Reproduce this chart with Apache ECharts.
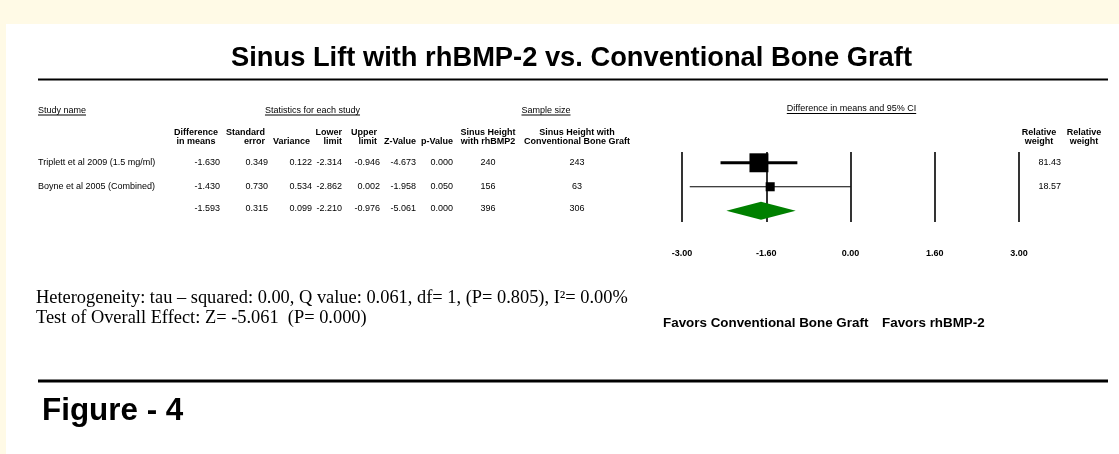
<!DOCTYPE html>
<html>
<head>
<meta charset="utf-8">
<title>Sinus Lift with rhBMP-2 vs. Conventional Bone Graft</title>
<script src="https://cdn.jsdelivr.net/npm/echarts@6/dist/echarts.min.js"></script>
<style>
  html, body { margin: 0; padding: 0; background: #FFFAE6; }
  #page { position: relative; width: 1119px; height: 454px; overflow: hidden; }
  #sheet { position: absolute; left: 6px; top: 24px; right: 0; bottom: 0; background: #ffffff; }
  #chart { position: absolute; left: 0; top: 0; width: 1119px; height: 454px; }
</style>
</head>
<body>
<div id="page">
  <div id="sheet"></div>
  <div id="chart"></div>
</div>
<script>
// ---- study data ----
const studies = ['Triplett et al 2009 (1.5 mg/ml)', 'Boyne et al 2005 (Combined)'];
const diffMeans = [-1.630, -1.430];
const stdErr = [0.349, 0.730];
const variances = [0.122, 0.534];
const lowerLimit = [-2.314, -2.862];
const upperLimit = [-0.946, 0.002];
const zValues = [-4.673, -1.958];
const pValues = [0.000, 0.050];
const nRhBMP2 = [240, 156];
const nConventional = [243, 63];
const relWeight = [81.43, 18.57];

// ---- pooled (fixed effect) summary ----
const pooledStats = [-1.593, 0.315, 0.099, -2.210, -0.976, -5.061, 0.000]; // diff, se, var, lower, upper, z, p
const pooledN = [396, 306];

// ---- axis ----
const axisMin = -3;
const axisMax = 3;
const axisStep = 1.5;
const tickLabels = ['-3.00', '-1.60', '0.00', '1.60', '3.00'];

// ---- texts ----
const titleText = 'Sinus Lift with rhBMP-2 vs. Conventional Bone Graft';
const heterogeneityText = 'Heterogeneity: tau \u2013 squared: 0.00, Q value: 0.061, df= 1, (P= 0.805), I\u00B2= 0.00%';
const overallText = 'Test of Overall Effect: Z= -5.061  (P= 0.000)';
const favorsLeft = 'Favors Conventional Bone Graft';
const favorsRight = 'Favors rhBMP-2';
const figureText = 'Figure - 4';

const SANS = '"Liberation Sans", Arial, Helvetica, sans-serif';
const SERIF = '"Liberation Serif", "Times New Roman", serif';

const measureCtx = document.createElement('canvas').getContext('2d');
function textWidth(str, font) { measureCtx.font = font; return measureCtx.measureText(str).width; }

function txt(x, y, text, font, align, extra) {
  return Object.assign({
    type: 'text', x: x, y: y, silent: true, z: 10,
    style: { text: text, font: font, fill: '#000',
      align: align || 'left', textAlign: align || 'left',
      verticalAlign: 'middle', textVerticalAlign: 'middle' }
  }, extra || {});
}
function rule(x1, y1, x2, y2, w) {
  return { type: 'line', silent: true, z: 10, shape: { x1: x1, y1: y1, x2: x2, y2: y2 },
    style: { stroke: '#000', lineWidth: w } };
}

const fSmall = '9px ' + SANS;
const fSmallB = 'bold 9px ' + SANS;
const g = [];

// title and rules
g.push(txt(571.5, 58, titleText, 'bold 27.3px ' + SANS, 'center'));
g.push(rule(38, 79.5, 1108, 79.5, 2));
g.push(rule(38, 381, 1108, 381, 3));
g.push(txt(42, 411, figureText, 'bold 31.4px ' + SANS, 'left'));

// underlined section headers
function section(cx, y, label, align) {
  const w = textWidth(label, fSmall);
  const left = align === 'left' ? cx : cx - w / 2;
  g.push(txt(cx, y, label, fSmall, align));
  g.push(rule(left, y + 4.5, left + w, y + 4.5, 1));
}
section(38, 110.5, 'Study name', 'left');
section(312.5, 110.5, 'Statistics for each study', 'center');
section(546, 110.5, 'Sample size', 'center');
section(851.5, 109, 'Difference in means and 95% CI', 'center');

// column headers
const headY = [132.3, 141.7];
const headers = [
  [196, 'center', 'Difference', 'in means'],
  [265, 'right', 'Standard', 'error'],
  [310, 'right', '', 'Variance'],
  [342, 'right', 'Lower', 'limit'],
  [377, 'right', 'Upper', 'limit'],
  [416, 'right', '', 'Z-Value'],
  [453, 'right', '', 'p-Value'],
  [488, 'center', 'Sinus Height', 'with rhBMP2'],
  [577, 'center', 'Sinus Height with', 'Conventional Bone Graft'],
  [1039, 'center', 'Relative', 'weight'],
  [1084, 'center', 'Relative', 'weight']
];
headers.forEach(function (h) {
  if (h[2]) g.push(txt(h[0], headY[0], h[2], fSmallB, h[1]));
  g.push(txt(h[0], headY[1], h[3], fSmallB, h[1]));
});

// table rows
const rowY = [163, 187, 209];
const cols = [[220, 'right'], [268, 'right'], [312, 'right'], [342, 'right'], [380, 'right'],
              [416, 'right'], [453, 'right'], [488, 'center'], [577, 'center']];
function tableRow(y, name, stats, ns, weight) {
  if (name) g.push(txt(38, y, name, fSmall, 'left'));
  stats.forEach(function (v, k) { g.push(txt(cols[k][0], y, v.toFixed(3), fSmall, cols[k][1])); });
  ns.forEach(function (v, k) { g.push(txt(cols[7 + k][0], y, String(v), fSmall, cols[7 + k][1])); });
  if (weight != null) g.push(txt(1061, y, weight.toFixed(2), fSmall, 'right'));
}
studies.forEach(function (s, i) {
  tableRow(rowY[i], s,
    [diffMeans[i], stdErr[i], variances[i], lowerLimit[i], upperLimit[i], zValues[i], pValues[i]],
    [nRhBMP2[i], nConventional[i]], relWeight[i]);
});
tableRow(rowY[2], '', pooledStats, pooledN, null);

// footnotes
g.push(txt(36, 298, heterogeneityText, '18.4px ' + SERIF, 'left'));
g.push(txt(36, 318, overallText, '18.4px ' + SERIF, 'left'));
g.push(txt(663, 323, favorsLeft, 'bold 13.4px ' + SANS, 'left'));
g.push(txt(882, 323, favorsRight, 'bold 13.4px ' + SANS, 'left'));

const chart = echarts.init(document.getElementById('chart'), null, { renderer: 'canvas' });

const studyData = studies.map(function (s, i) {
  return [i, diffMeans[i], lowerLimit[i], upperLimit[i], relWeight[i]];
});
const pooledData = [[studies.length, pooledStats[0], pooledStats[3], pooledStats[4]]];

chart.setOption({
  backgroundColor: 'transparent',
  animation: false,
  grid: { left: 682, right: 100, top: 152, height: 70, containLabel: false },
  xAxis: {
    type: 'value', min: axisMin, max: axisMax, interval: axisStep,
    axisLine: { show: false }, axisTick: { show: false },
    splitLine: { show: true, lineStyle: { color: '#000', width: 1.6 } },
    axisLabel: {
      margin: 27, fontSize: 9, fontWeight: 'bold', color: '#000', fontFamily: SANS,
      formatter: function (v) { return tickLabels[Math.round((v - axisMin) / axisStep)]; }
    }
  },
  yAxis: { type: 'value', inverse: true, min: -0.45, max: 2.47, show: false },
  graphic: { elements: g },
  series: [
    {
      type: 'custom', name: 'Studies', z: 5,
      encode: { x: [1, 2, 3], y: 0 },
      data: studyData,
      renderItem: function (params, api) {
        const row = api.value(0);
        const m = api.coord([api.value(1), row]);
        const lo = api.coord([api.value(2), row]);
        const hi = api.coord([api.value(3), row]);
        const w = api.value(4);
        const side = 2.1 * Math.sqrt(w);
        return {
          type: 'group',
          children: [
            { type: 'line', shape: { x1: lo[0], y1: lo[1], x2: hi[0], y2: hi[1] },
              style: { stroke: '#000', lineWidth: 0.5 + w / 32 } },
            { type: 'rect', shape: { x: m[0] - side / 2, y: m[1] - side / 2, width: side, height: side },
              style: { fill: '#000' } }
          ]
        };
      }
    },
    {
      type: 'custom', name: 'Pooled', z: 4,
      encode: { x: [1, 2, 3], y: 0 },
      data: pooledData,
      renderItem: function (params, api) {
        const row = api.value(0);
        const c = api.coord([api.value(1), row]);
        const lo = api.coord([api.value(2), row]);
        const hi = api.coord([api.value(3), row]);
        return {
          type: 'polygon',
          shape: { points: [[lo[0], c[1]], [c[0], c[1] - 9], [hi[0], c[1]], [c[0], c[1] + 9]] },
          style: { fill: '#008000' }
        };
      }
    }
  ]
});
</script>
</body>
</html>
